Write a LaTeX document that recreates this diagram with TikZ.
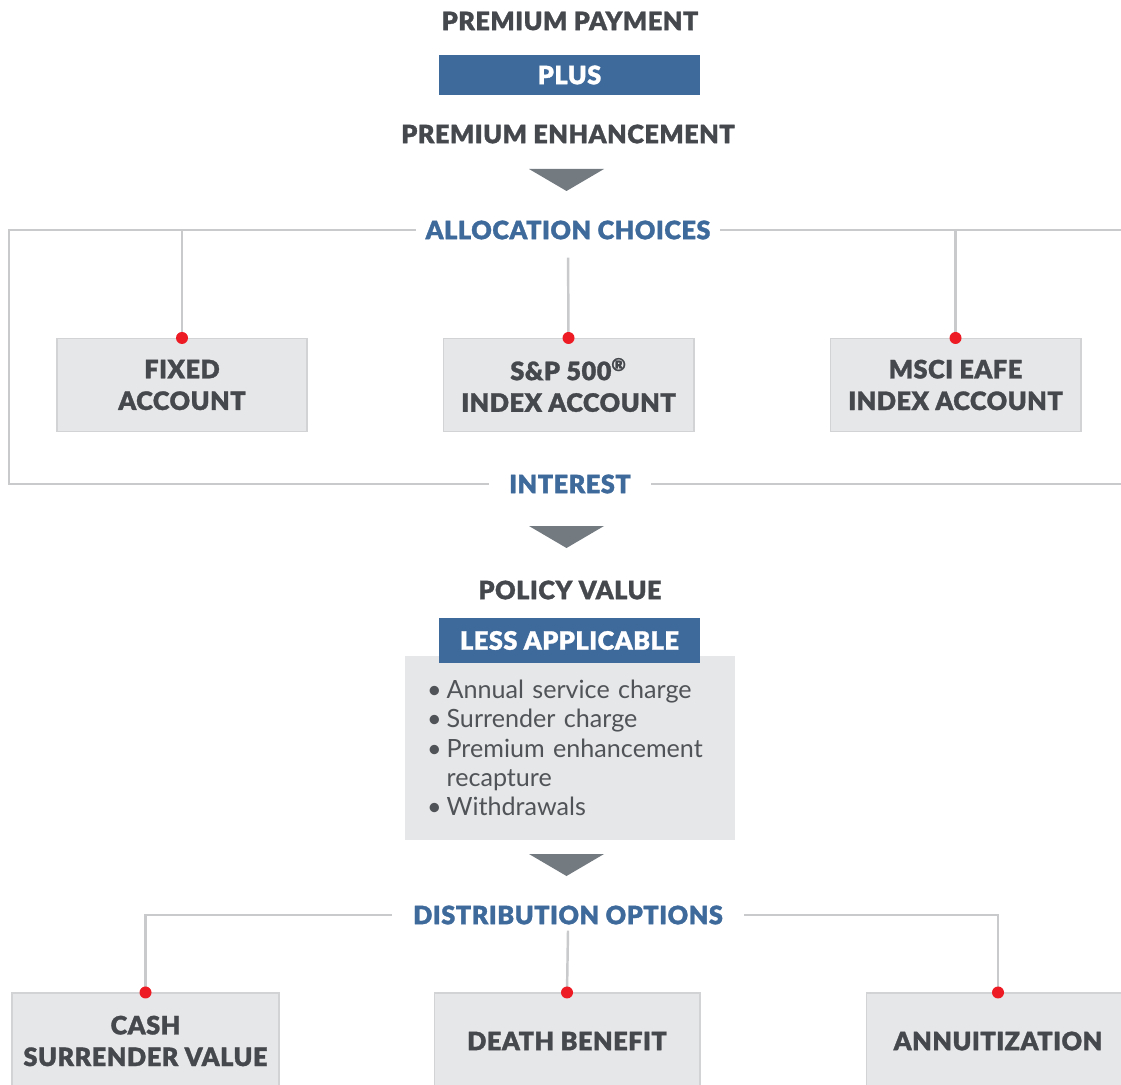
\documentclass[tikz,border=0pt]{standalone}
\usepackage{fontspec}
\setmainfont{Lato}[BoldFont={Lato Black}, BoldFeatures={FakeBold=1.2, LetterSpace=2}]
\usetikzlibrary{positioning}
\definecolor{planblue}{HTML}{3E6A9B}
\definecolor{darktext}{HTML}{45484D}
\definecolor{listtext}{HTML}{505357}
\definecolor{arrowgray}{HTML}{737A80}
\definecolor{boxfill}{HTML}{E6E7E8}
\definecolor{boxline}{HTML}{D1D3D4}
\definecolor{linegray}{HTML}{C8CACC}
\definecolor{pinred}{HTML}{ED1C24}
\newcommand\itm{•\hspace{0.1cm}}
\begin{document}
\begin{tikzpicture}[x=0.02cm, y=-0.02cm,
  head/.style={font=\bfseries\fontsize{14.4}{18}\selectfont, text=darktext},
  choice/.style={font=\bfseries\fontsize{14.4}{18}\selectfont, text=planblue},
  band/.style={fill=planblue, text=white, font=\bfseries\fontsize{14.4}{18}\selectfont, minimum width=5.22cm, minimum height=0.8cm},
  acct/.style={draw=boxline, fill=boxfill, line width=0.6pt, text=darktext, font=\bfseries\fontsize{14.4}{18}\selectfont, align=center, minimum height=1.86cm},
  charges/.style={fill=boxfill, text=listtext, font=\fontsize{14.3}{16.7}\selectfont, align=left, text width=5.72cm, inner xsep=0.44cm, minimum height=3.68cm},
  link/.style={draw=linegray, line width=1.4pt},
  pin/.style={circle, fill=pinred, minimum size=0.24cm, inner sep=0pt}]
\useasboundingbox (0,0) rectangle (1121,1084);
% premium
\node[head] (payment) at (570,21) {PREMIUM PAYMENT};
\node[band] (plus) at (569.5,75) {PLUS};
\node[head] (enhance) at (568,134) {PREMIUM ENHANCEMENT};
\foreach \y in {169,526,854}
  \fill[arrowgray] (529,\y) -- (604,\y) -- (566.5,\y+22) -- cycle;
% allocation
\node[choice, inner xsep=0.18cm] (alloc) at (568,230) {ALLOCATION CHOICES};
\node[acct, minimum width=5cm] (fixed) at (182,385) {FIXED\\ACCOUNT};
\node[acct, minimum width=5.02cm] (sp) at (568.5,385) {S\&P 500\textsuperscript{®}\\INDEX ACCOUNT};
\node[acct, minimum width=5.02cm] (msci) at (955.5,385) {MSCI EAFE\\INDEX ACCOUNT};
\node[choice, inner xsep=0.4cm] (interest) at (570,484) {INTEREST};
\coordinate (lefttop) at (9,230);
\coordinate (righttop) at (1121,230);
\coordinate (rightbot) at (1121,484);
% policy value
\node[head] (policy) at (570,590) {POLICY VALUE};
\node[charges] (charges) at (570,748) {\itm Annual service charge\\ \itm Surrender charge\\ \itm Premium enhancement\\ \hphantom{\itm}recapture\\ \itm Withdrawals};
\node[band, minimum height=0.9cm] (less) at (569.5,640.5) {LESS APPLICABLE};
% distribution
\node[choice, inner xsep=0.42cm] (dist) at (568,915) {DISTRIBUTION OPTIONS};
\node[acct, minimum width=5.34cm, minimum height=1.92cm] (cash) at (145.5,1041) {CASH\\SURRENDER VALUE};
\node[acct, minimum width=5.32cm, minimum height=1.92cm] (death) at (567,1041) {DEATH BENEFIT};
\node[acct, minimum width=5.28cm, minimum height=1.92cm] (annuity) at (998,1041) {ANNUITIZATION};
% connectors
\draw[link] (alloc.west) -- (lefttop) |- (interest.west);
\draw[link] (alloc.east) -- (righttop);
\draw[link] (interest.east) -- (rightbot);
\draw[link] (fixed.north |- alloc.west) -- (fixed.north);
\draw[link, shorten <=0.24cm] (alloc.south) -- (sp.north);
\draw[link] (msci.north |- alloc.east) -- (msci.north);
\draw[link] (dist.west) -| (cash.north);
\draw[link] (dist.east) -| (annuity.north);
\draw[link] (dist.south) -- (death.north);
\foreach \acc in {fixed,sp,msci,cash,death,annuity}
  \node[pin] (\acc pin) at (\acc.north) {};
\end{tikzpicture}
\end{document}
